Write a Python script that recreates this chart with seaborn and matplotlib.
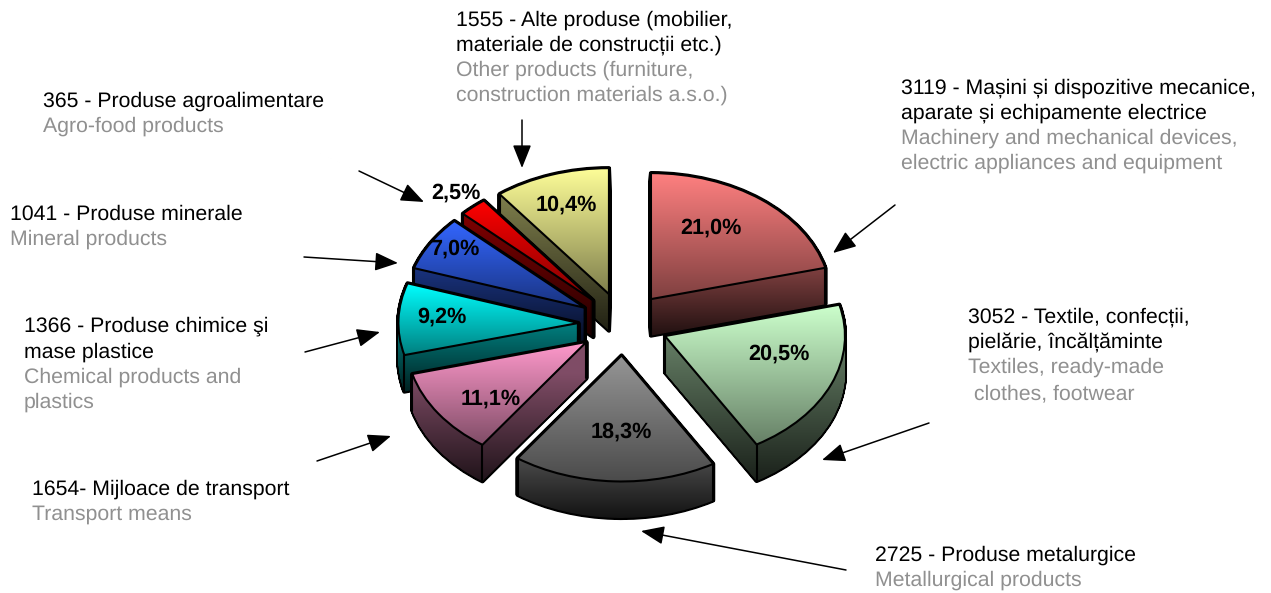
import numpy as np
import matplotlib
matplotlib.use("Agg")
import matplotlib.pyplot as plt
import seaborn as sns
from matplotlib.path import Path
from matplotlib.patches import PathPatch
from matplotlib.transforms import Affine2D
from matplotlib.colors import to_rgb

# ---- data -----------------------------------------------------------
shares = [21.0, 20.5, 18.3, 11.1, 9.2, 7.0, 2.5, 10.4]
slice_colors = ["#FF8080", "#CCFFCC", "#969696", "#FF99CC",
                "#00FFFF", "#3366FF", "#FF0000", "#FFFF99"]
# back-to-front painting order of the slices
paint_order = [7, 6, 5, 4, 3, 0, 1, 2]
pct_pos = [(711, 228), (779, 354), (621, 432), (491, 399),
           (442, 317), (455, 249), (456, 193), (566, 205)]

label_blocks = [
    (456, [26, 51, 76, 101],
     ["1555 - Alte produse (mobilier,", "materiale de construcții etc.)"],
     ["Other products (furniture,", "construction materials a.s.o.)"]),
    (901, [94, 119, 144, 169],
     ["3119 - Mașini și dispozitive mecanice,", "aparate și echipamente electrice"],
     ["Machinery and mechanical devices,", "electric appliances and equipment"]),
    (43, [107, 132], ["365 - Produse agroalimentare"], ["Agro-food products"]),
    (10, [220, 245], ["1041 - Produse minerale"], ["Mineral products"]),
    (24, [332, 358, 383, 408],
     ["1366 - Produse chimice şi", "mase plastice"],
     ["Chemical products and", "plastics"]),
    (32, [495, 520], ["1654- Mijloace de transport"], ["Transport means"]),
    (968, [323, 348, 373, 399],
     ["3052 - Textile, confecții,", "pielărie, încălțăminte"],
     ["Textiles, ready-made", " clothes, footwear"]),
    (875, [561, 586], ["2725 - Produse metalurgice"], ["Metallurgical products"]),
]
arrows = [
    ((522, 120), (522, 168)), ((895, 205), (833, 253)),
    ((929, 423), (822, 460)), ((846, 570), (641, 531)),
    ((317, 461), (391, 436)), ((305, 352), (380, 332)),
    ((304, 257), (398, 263)), ((359, 171), (424, 202)),
]

# ---- geometry / style ------------------------------------------------
W, H = 1271, 593
CX, CY = 623.4, 324.0      # pixel position of the pie centre
RX, RY = 180.0, 126.0      # pixels per data unit
DEPTH = 36.5 / RY          # extrusion depth in data units
EXPLODE = 0.25

sns.set_theme(style="white")
plt.rcParams["font.family"] = ["Liberation Sans", "DejaVu Sans"]
plt.rcParams["text.hinting"] = "no_hinting"
palette = sns.color_palette(slice_colors)

fig = plt.figure(figsize=(W / 100, H / 100), dpi=100, facecolor="white")
ax = fig.add_axes([0, 0, 1, 1])

wedges, _ = ax.pie(shares, explode=[EXPLODE] * len(shares), startangle=90,
                   counterclock=False, radius=1, colors=palette,
                   wedgeprops=dict(edgecolor="black", linewidth=1.5))


def ramp(color, y, y_top, y_bot, f_top, f_bot):
    t = np.clip((y_top - y) / (y_top - y_bot), 0, 1)
    f = f_top + (f_bot - f_top) * t
    return np.outer(f, np.array(color))[:, None, :]


for rank, i in enumerate(paint_order):
    w = wedges[i]
    col = to_rgb(palette[i])
    base = 10 + rank * 10
    path = w.get_path()
    cx, cy = w.center
    t1, t2 = np.deg2rad(w.theta1), np.deg2rad(w.theta2)
    pts = [(cx, cy), (cx + np.cos(t1), cy + np.sin(t1)), (cx + np.cos(t2), cy + np.sin(t2))]

    # extruded side: union of the face moved down
    side = Path.make_compound_path(*[
        path.transformed(Affine2D().translate(0, -DEPTH * k / 40)) for k in range(41)])
    ax.add_patch(PathPatch(side, fill=False, edgecolor="black", linewidth=3.0,
                           zorder=base, joinstyle="round"))
    ext = side.get_extents()
    ys = np.linspace(ext.y1, ext.y0, 128)
    second = sorted(p[1] for p in pts)[1]
    img = ramp(col, ys, second, ext.y0, 0.50, 0.13)
    im = ax.imshow(img, extent=(ext.x0, ext.x1, ext.y0, ext.y1), aspect="auto",
                   interpolation="bilinear", zorder=base + 1)
    im.set_clip_path(side, ax.transData)
    for px, py in pts:
        # an edge whose midpoint lies under the top face is a hidden one
        if path.contains_point((px, py - DEPTH / 2)):
            continue
        ax.plot([px, px], [py, py - DEPTH], color="black", lw=1.5, zorder=base + 2,
                solid_capstyle="round")

    # top face
    f_ext = path.get_extents()
    ys = np.linspace(f_ext.y1, f_ext.y0, 128)
    img = ramp(col, ys, f_ext.y1, f_ext.y0, 1.0, 0.5)
    im = ax.imshow(img, extent=(f_ext.x0, f_ext.x1, f_ext.y0, f_ext.y1), aspect="auto",
                   interpolation="bilinear", zorder=base + 3)
    im.set_clip_path(path, ax.transData)
    w.set_facecolor("none")
    w.set_zorder(base + 4)
    w.set_joinstyle("round")

ax.set_aspect("auto")
ax.set_xlim(-CX / RX, (W - CX) / RX)
ax.set_ylim((CY - H) / RY, CY / RY)
ax.axis("off")

# ---- overlay in pixel coordinates: labels and arrows ----------------
ov = fig.add_axes([0, 0, 1, 1], facecolor="none")
ov.set_xlim(0, W)
ov.set_ylim(H, 0)
ov.axis("off")

FS = 15.3
for x, ys, dark, light in label_blocks:
    for y, line, c in zip(ys, dark + light,
                          ["black"] * len(dark) + ["#909090"] * len(light)):
        ov.text(x, y, line, fontsize=FS, color=c, ha="left", va="baseline")

for v, (x, y) in zip(shares, pct_pos):
    ov.text(x, y, f"{v:.1f}%".replace(".", ","), fontsize=15.6, fontweight="bold",
            color="black", ha="center", va="center")

for start, end in arrows:
    ov.annotate("", xy=end, xytext=start,
                arrowprops=dict(arrowstyle="-|>,head_length=0.95,head_width=0.38",
                                mutation_scale=15, color="black", lw=1.1,
                                shrinkA=0, shrinkB=0))

fig.savefig("out.png", dpi=100, facecolor="white")
